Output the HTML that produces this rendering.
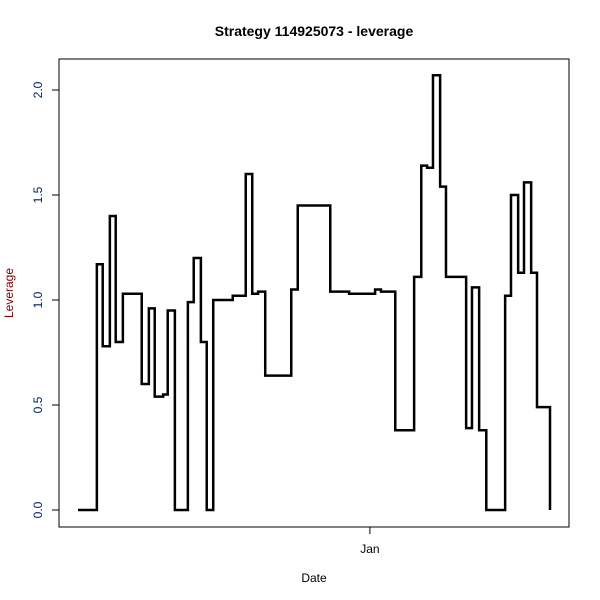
<!DOCTYPE html>
<html><head><meta charset="utf-8"><style>body{margin:0;background:#fff}svg{display:block;font-family:"Liberation Sans",Arial,sans-serif}</style></head>
<body>
<svg width="600" height="600">
<text x="314" y="36" text-anchor="middle" font-weight="bold" font-size="14">Strategy 114925073 - leverage</text>
<rect x="59" y="59" width="510" height="468" fill="none" stroke="#000"/>
<g id="yaxis"></g>
<g id="xaxis"></g>
<text x="314" y="582" text-anchor="middle" font-size="12">Date</text>
<text transform="translate(13,293) rotate(-90)" text-anchor="middle" font-size="12" fill="#800000">Leverage</text>
<path id="line" fill="none" stroke="#000" stroke-width="2.5"/>
</svg>
<script>
const days=[0,2.9,3.8,4.9,5.8,6.9,9.8,10.9,11.8,13.1,13.8,14.9,16.9,17.8,18.9,19.8,20.8,23.8,25.8,26.8,27.7,28.8,32.8,33.8,38.8,41.7,45.7,46.6,48.8,51.7,52.8,53.7,54.6,55.7,56.6,59.7,60.6,61.7,62.8,65.7,66.6,67.7,68.6,69.7,70.6,72.6];
const leverage=[0,1.17,0.78,1.40,0.80,1.03,0.60,0.96,0.54,0.55,0.95,0,0.99,1.20,0.80,0,1.00,1.02,1.60,1.03,1.04,0.64,1.05,1.45,1.04,1.03,1.05,1.04,0.38,1.11,1.64,1.63,2.07,1.54,1.11,0.39,1.06,0.38,0,1.02,1.50,1.13,1.56,1.13,0.49,0];
const yTicks=[0,0.5,1,1.5,2];
const yTickLabels=["0.0","0.5","1.0","1.5","2.0"];
const xTicks=[44.9];
const xTickLabels=["Jan"];
const xMax=72.6;
const xs=d=>78+d/xMax*472;
const ys=v=>510-v*210;
const NS="http://www.w3.org/2000/svg";
let d="";
for(let i=0;i<days.length;i++){
  const x=xs(days[i]),y=ys(leverage[i]);
  if(i===0)d+="M"+x+","+y;else d+="H"+x+"V"+y;
}
d+="";
document.getElementById('line').setAttribute('d',d);
const ya=document.getElementById('yaxis');
yTicks.forEach((t,i)=>{
  const l=document.createElementNS(NS,'line');
  l.setAttribute('x1',52);l.setAttribute('x2',59);l.setAttribute('y1',ys(t));l.setAttribute('y2',ys(t));l.setAttribute('stroke','#000');
  
  
  ya.appendChild(l);
  const tx=document.createElementNS(NS,'text');
  tx.setAttribute('transform','translate(42,'+ys(t)+') rotate(-90)');
  tx.setAttribute('text-anchor','middle');tx.setAttribute('font-size','12');tx.setAttribute('fill','#002060');
  tx.textContent=yTickLabels[i];
  
  
  ya.appendChild(tx);
});
const xa=document.getElementById('xaxis');
xTicks.forEach((t,i)=>{
  const l=document.createElementNS(NS,'line');
  l.setAttribute('x1',xs(t));l.setAttribute('x2',xs(t));l.setAttribute('y1',527);l.setAttribute('y2',534);l.setAttribute('stroke','#000');
  
  
  xa.appendChild(l);
  const tx=document.createElementNS(NS,'text');
  tx.setAttribute('x',xs(t));tx.setAttribute('y',553);tx.setAttribute('text-anchor','middle');tx.setAttribute('font-size','12');
  tx.textContent=xTickLabels[i];
  
  
  xa.appendChild(tx);
});
</script>
</body></html>
